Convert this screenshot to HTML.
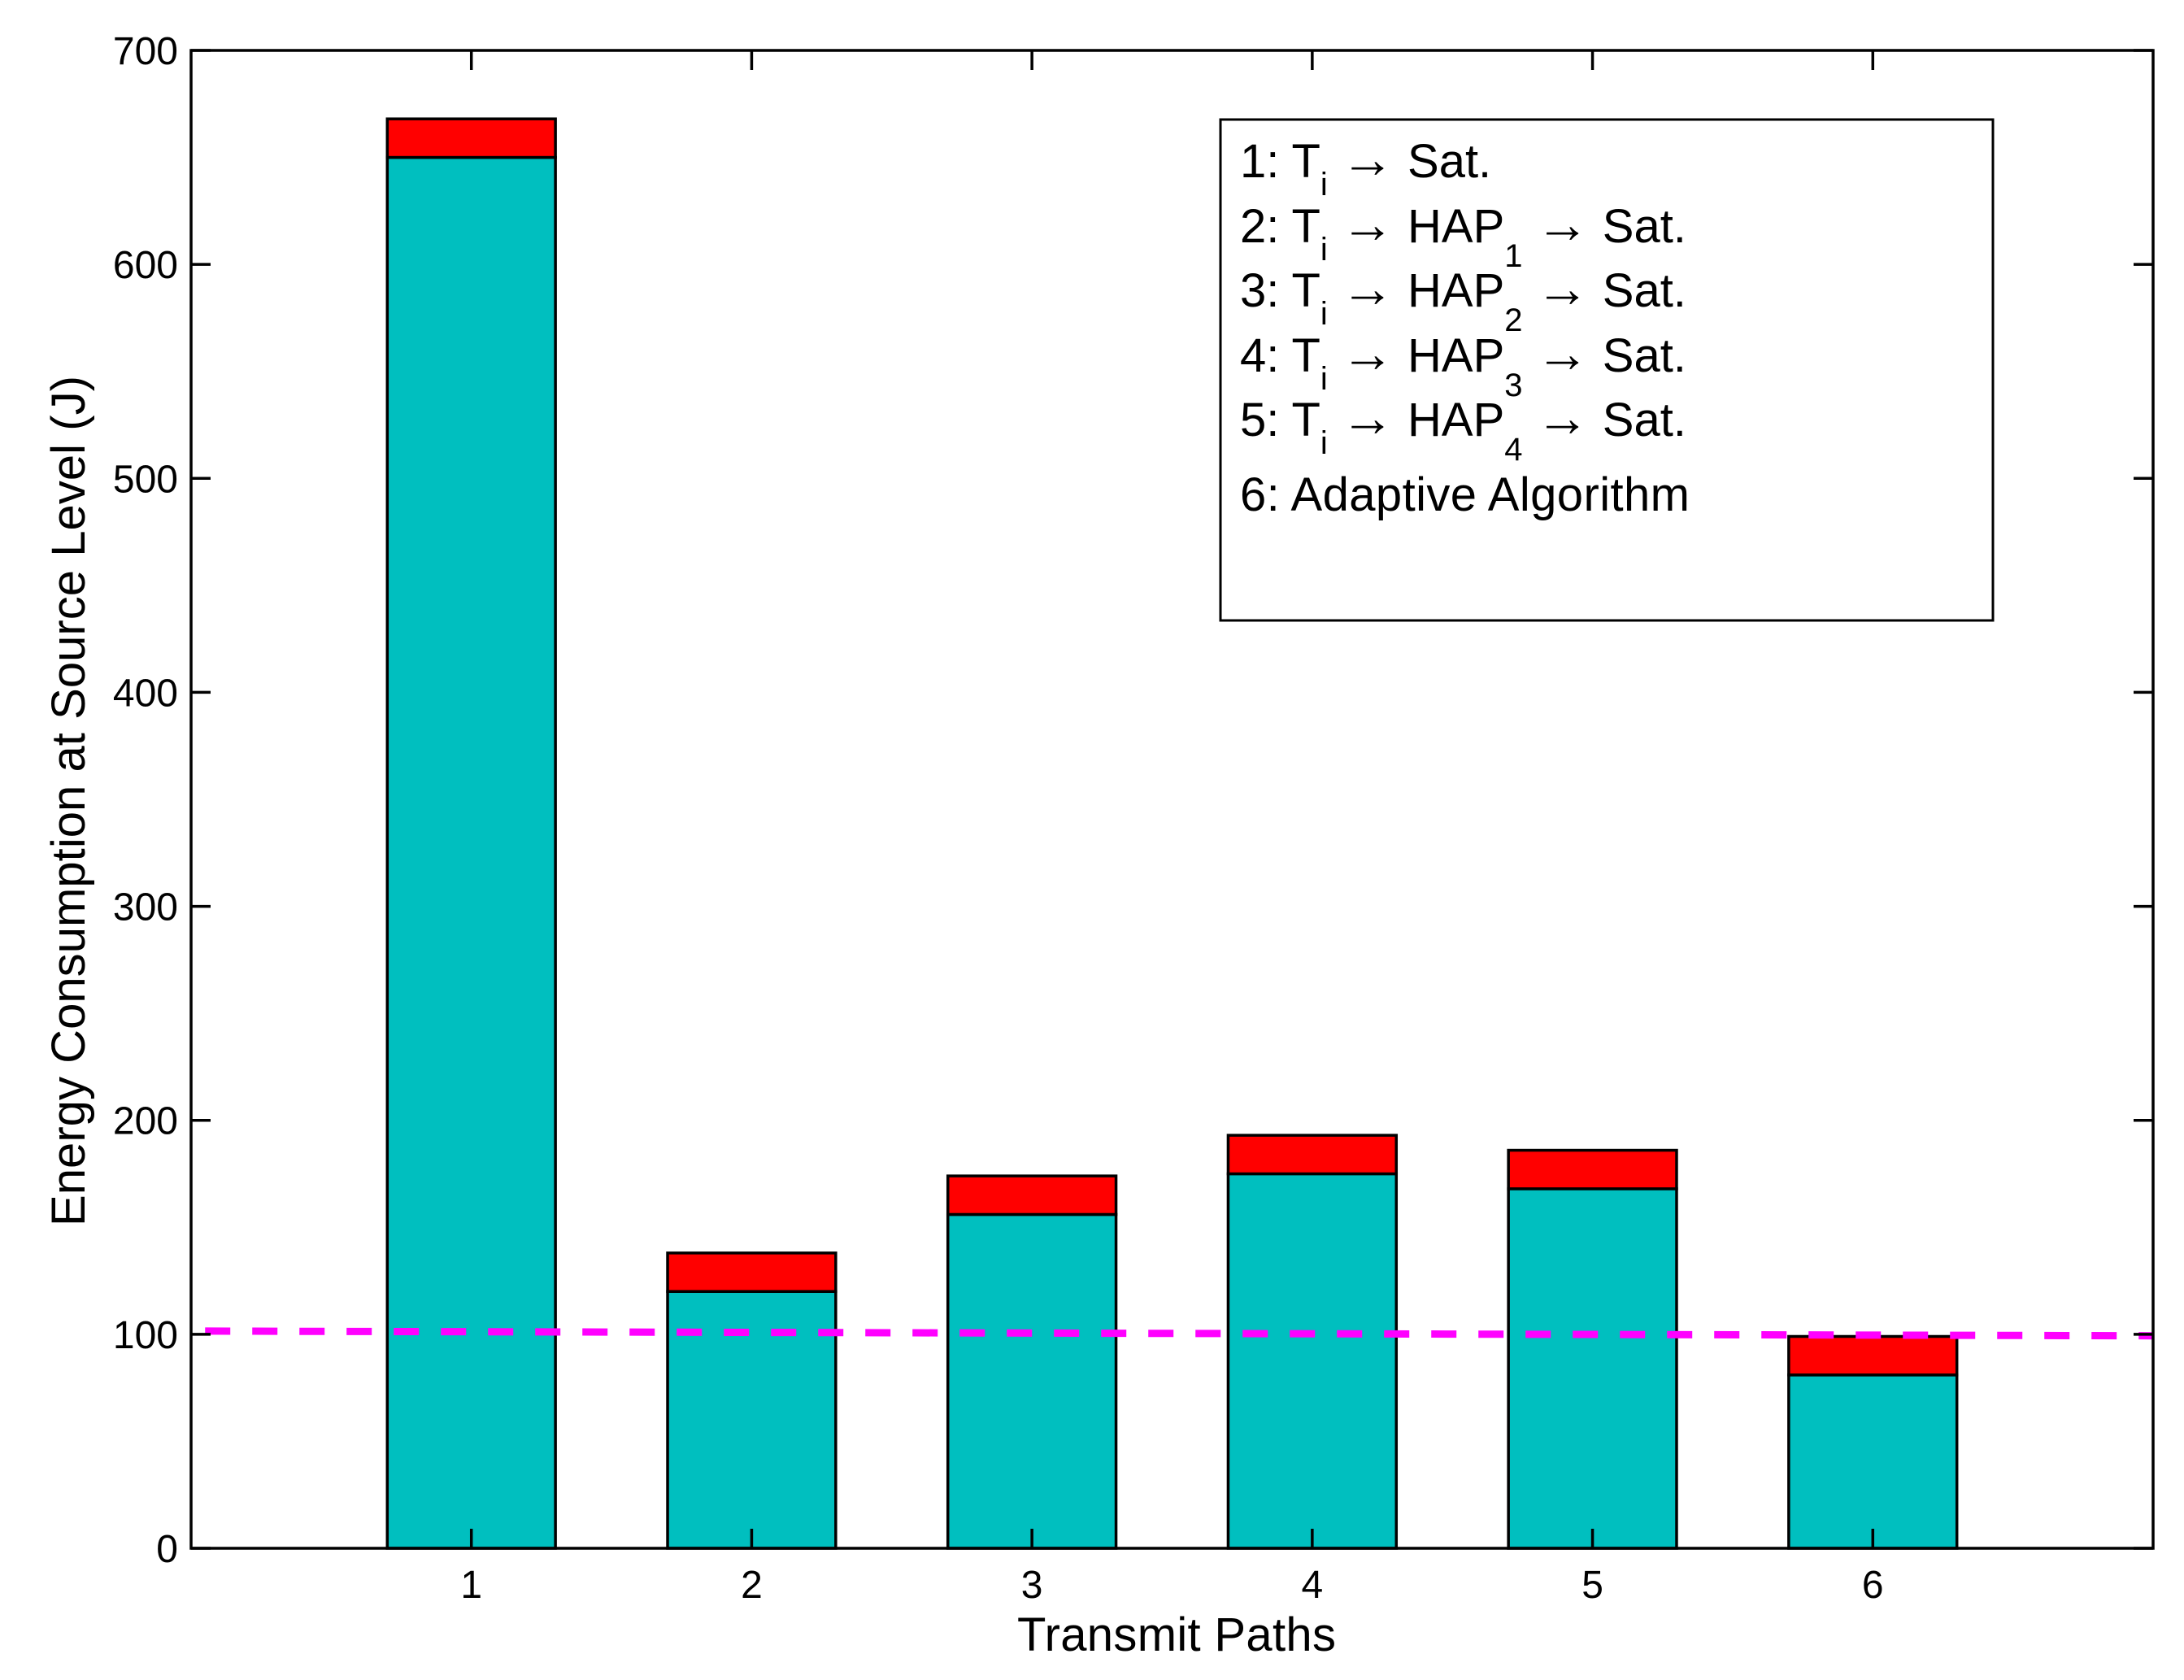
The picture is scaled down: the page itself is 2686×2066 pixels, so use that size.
<!DOCTYPE html>
<html>
<head>
<meta charset="utf-8">
<style>
  html,body{margin:0;padding:0;background:#fff;}
  svg{display:block;}
  text{font-family:"Liberation Sans",Arial,sans-serif;fill:#000;}
</style>
</head>
<body>
<svg id="chart" width="2686" height="2066" viewBox="0 0 2686 2066" xmlns="http://www.w3.org/2000/svg">
  <rect x="0" y="0" width="2686" height="2066" fill="#fff"/>
  <g id="bars"></g>
  <g id="refline"></g>
  <g id="axes"></g>
  <g id="legend">
    <rect x="1501" y="147" width="950" height="616" fill="#fff" stroke="#000" stroke-width="3"/>
    <text x="1525" y="218" font-size="58">1: T<tspan font-size="40" dy="22">i</tspan><tspan dy="-22"> </tspan><tspan font-size="66">→</tspan><tspan> Sat.</tspan></text>
    <text x="1525" y="298" font-size="58">2: T<tspan font-size="40" dy="22">i</tspan><tspan dy="-22"> </tspan><tspan font-size="66">→</tspan><tspan> HAP</tspan><tspan font-size="40" dy="30">1</tspan><tspan dy="-30"> </tspan><tspan font-size="66">→</tspan><tspan> Sat.</tspan></text>
    <text x="1525" y="377" font-size="58">3: T<tspan font-size="40" dy="22">i</tspan><tspan dy="-22"> </tspan><tspan font-size="66">→</tspan><tspan> HAP</tspan><tspan font-size="40" dy="30">2</tspan><tspan dy="-30"> </tspan><tspan font-size="66">→</tspan><tspan> Sat.</tspan></text>
    <text x="1525" y="457" font-size="58">4: T<tspan font-size="40" dy="22">i</tspan><tspan dy="-22"> </tspan><tspan font-size="66">→</tspan><tspan> HAP</tspan><tspan font-size="40" dy="30">3</tspan><tspan dy="-30"> </tspan><tspan font-size="66">→</tspan><tspan> Sat.</tspan></text>
    <text x="1525" y="536" font-size="58">5: T<tspan font-size="40" dy="22">i</tspan><tspan dy="-22"> </tspan><tspan font-size="66">→</tspan><tspan> HAP</tspan><tspan font-size="40" dy="30">4</tspan><tspan dy="-30"> </tspan><tspan font-size="66">→</tspan><tspan> Sat.</tspan></text>
    <text x="1525" y="628" font-size="58" textLength="553">6: Adaptive Algorithm</text>
  </g>
  <text x="1447" y="2030" font-size="58" text-anchor="middle" textLength="392">Transmit Paths</text>
  <text x="0" y="0" font-size="58" text-anchor="middle" textLength="1046" transform="translate(104,985) rotate(-90)">Energy Consumption at Source Level (J)</text>
</svg>
<script>
const categories = ["1","2","3","4","5","6"];
const baseValues = [650, 120, 156, 175, 168, 81];
const topValues = [18, 18, 18, 18, 18, 18];
const yTicks = [0, 100, 200, 300, 400, 500, 600, 700];
const refLineStart = 101.5;
const refLineEnd = 99.3;

const L = 235, R = 2648, T = 62, B = 1904;
const xMin = 0, xMax = 7, yMin = 0, yMax = 700;
function xs(v){ return L + (v - xMin) / (xMax - xMin) * (R - L); }
function ys(v){ return B - (v - yMin) / (yMax - yMin) * (B - T); }
const NS = "http://www.w3.org/2000/svg";
function mk(tag, attrs, parent){
  const el = document.createElementNS(NS, tag);
  for (const k in attrs) el.setAttribute(k, attrs[k]);
  parent.appendChild(el);
  return el;
}
const barsG = document.getElementById('bars');
const barW = 0.6;
categories.forEach((c, i) => {
  const cx = i + 1;
  const x0 = xs(cx - barW/2), x1 = xs(cx + barW/2);
  const b = baseValues[i], t = topValues[i];
  const r1 = mk('rect', {x:x0, y:ys(b), width:x1-x0, height:ys(0)-ys(b), fill:'#00bfbf', stroke:'#000', 'stroke-width':3.5}, barsG);
  
  
  const r2 = mk('rect', {x:x0, y:ys(b+t), width:x1-x0, height:ys(b)-ys(b+t), fill:'#ff0000', stroke:'#000', 'stroke-width':3.5}, barsG);
  
  
});
const refG = document.getElementById('refline');
const ln = mk('line', {x1:xs(0.05), y1:ys(refLineStart), x2:xs(7), y2:ys(refLineEnd), stroke:'#ff00ff', 'stroke-width':9, 'stroke-dasharray':'31 27'}, refG);



const ax = document.getElementById('axes');
const frame = mk('rect', {x:L, y:T, width:R-L, height:B-T, fill:'none', stroke:'#000', 'stroke-width':3.5}, ax);


const tl = 24;
yTicks.forEach(v => {
  const y = ys(v);
  const t1 = mk('line', {x1:L, y1:y, x2:L+tl, y2:y, stroke:'#000', 'stroke-width':3.5}, ax);
  
  
  const t2 = mk('line', {x1:R, y1:y, x2:R-tl, y2:y, stroke:'#000', 'stroke-width':3.5}, ax);
  
  
  const lb = mk('text', {x:L-16, y:y+17, 'font-size':48, 'text-anchor':'end'}, ax);
  lb.textContent = String(v);
  
  
});
categories.forEach((c, i) => {
  const x = xs(i + 1);
  const t1 = mk('line', {x1:x, y1:B, x2:x, y2:B-tl, stroke:'#000', 'stroke-width':3.5}, ax);
  
  
  const t2 = mk('line', {x1:x, y1:T, x2:x, y2:T+tl, stroke:'#000', 'stroke-width':3.5}, ax);
  
  
  const lb = mk('text', {x:x, y:B+61, 'font-size':48, 'text-anchor':'middle'}, ax);
  lb.textContent = c;
  
  
});
</script>
</body>
</html>
